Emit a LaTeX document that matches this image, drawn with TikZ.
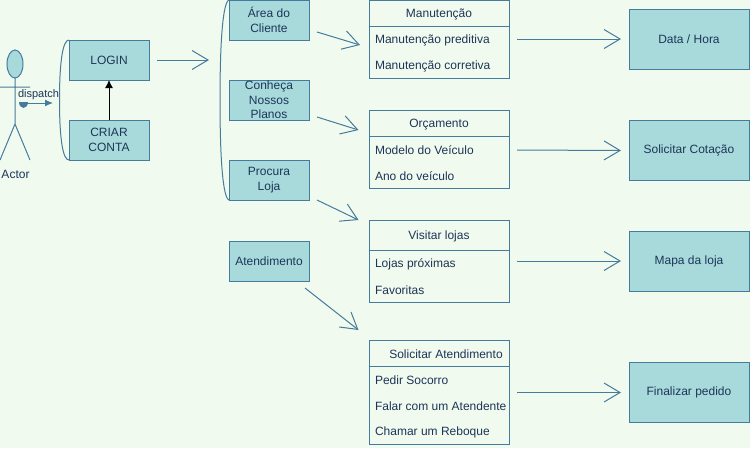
\documentclass[tikz,border=0pt]{standalone}
\usepackage{fontspec}
\setmainfont{Liberation Sans}
\usetikzlibrary{arrows.meta,shapes.geometric}
\definecolor{bgcol}{HTML}{F1FAEE}
\definecolor{fillcol}{HTML}{A8DADC}
\definecolor{linecol}{HTML}{457B9D}
\definecolor{textcol}{HTML}{1D3557}
\tikzset{
  every node/.style={text=textcol,font=\fontsize{12}{14.5}\selectfont,inner sep=0pt,outer sep=0pt},
  btn/.style={draw=linecol,fill=fillcol,minimum width=80pt,minimum height=40pt,align=center},
  result/.style={draw=linecol,fill=fillcol,minimum width=120pt,minimum height=60pt,align=center},
  menubox/.style={draw=linecol,minimum width=140pt,anchor=north west},
  item/.style={anchor=west},
  flow/.style={draw=linecol,-{Straight Barb[length=16pt,width=19pt]}},
  brace/.style={draw=linecol}
}
\begin{document}
\begin{tikzpicture}[x=1pt,y=-1pt,line width=1pt]
\path[use as bounding box,fill=bgcol] (0,0) rectangle (750,448);
% actor
\node[draw=linecol,fill=fillcol,ellipse,minimum width=16pt,minimum height=28pt] (head) at (15,64) {};
\coordinate (hip) at (15,124);
\coordinate (armL) at (0,87);
\coordinate (armR) at (30,87);
\coordinate (footL) at (0,160);
\coordinate (footR) at (30,160);
\draw[linecol] (head.south) -- (hip) (armL) -- (armR) (footL) -- (hip) -- (footR);
\node (actor) at (15.5,174) {Actor};
\node[font=\fontsize{11}{13}\selectfont] (dispatch) at (38.5,94.5) {dispatch};
\coordinate (dstart) at (23,103);
\coordinate (dend) at (53,103);
\fill[linecol] (19,102) -- (28,102) arc[start angle=0,end angle=-180,x radius=4.5pt,y radius=6pt] -- cycle;
\draw[linecol,-{Latex[length=8pt,width=7pt]}] (dstart) -- (dend);
% login
\draw[brace] (69,40) .. controls (63,40) and (59.5,60) .. (59.5,100) .. controls (59.5,140) and (63,160) .. (69,160);
\node[btn] (login) at (109,60) {LOGIN};
\node[btn] (criar) at (109,140) {CRIAR~\\CONTA};
\draw[black,-{Latex[length=8pt,width=8pt]}] (criar.north) -- (login.south);
% menu
\draw[brace] (229,0) .. controls (223,2) and (220,40) .. (220,100) .. controls (220,160) and (223,198) .. (229,200);
\node[btn] (area) at (269,20) {Área do\\Cliente};
\node[btn] (planos) at (269,100) {Conheça\\Nossos\\Planos};
\node[btn] (loja) at (269,180) {Procura\\Loja};
\node[btn] (atend) at (269,261) {Atendimento};
% boxes
\node[menubox,minimum height=78pt] (manut) at (369,0.5) {};
\draw[linecol] (369,26.5) -- (509,26.5);
\node (manutT) at (439,14.5) {Manutenção};
\node[item] (manutA) at (375,40.5) {Manutenção preditiva};
\node[item] (manutB) at (375,66.5) {Manutenção corretiva};
\node[menubox,minimum height=78pt] (orc) at (369,110.5) {};
\draw[linecol] (369,136.5) -- (509,136.5);
\node (orcT) at (439,124.5) {Orçamento};
\node[item] (orcA) at (375,150.5) {Modelo do Veículo};
\node[item] (orcB) at (375,176.5) {Ano do veículo};
\node[menubox,minimum height=82pt] (vis) at (369,220.5) {};
\draw[linecol] (369,250.5) -- (509,250.5);
\node (visT) at (439,236.5) {Visitar lojas};
\node[item] (visA) at (375,264.5) {Lojas próximas};
\node[item] (visB) at (375,290.5) {Favoritas};
\node[menubox,minimum height=104pt] (sol) at (369,340.5) {};
\draw[linecol] (369,366.5) -- (509,366.5);
\node (solT) at (446,354.5) {Solicitar Atendimento};
\node[item] (solA) at (375,380.5) {Pedir Socorro};
\node[item] (solB) at (375,406.5) {Falar com um Atendente};
\node[item] (solC) at (375,432.5) {Chamar um Reboque};
% results
\node[result] (data) at (689,39) {Data / Hora};
\node[result] (cot) at (689,150) {Solicitar Cotação};
\node[result] (mapa) at (689,261) {Mapa da loja};
\node[result] (fin) at (689,392) {Finalizar pedido};
% arrows
\foreach \name/\xa/\ya/\xb/\yb in {a/157/60/209/60,b/317/32/360/45,c/317/117/358.5/130,d/317/200/358.5/220,
  e/305/288/358.5/330,f/517/39/621/39,g/517/150/621/150.5,h/517/261/621/261,i/517/392.5/621/392.5}{
  \coordinate (\name1) at (\xa,\ya);
  \coordinate (\name2) at (\xb,\yb);
  \draw[flow] (\name1) -- (\name2);
}
\end{tikzpicture}
\end{document}
